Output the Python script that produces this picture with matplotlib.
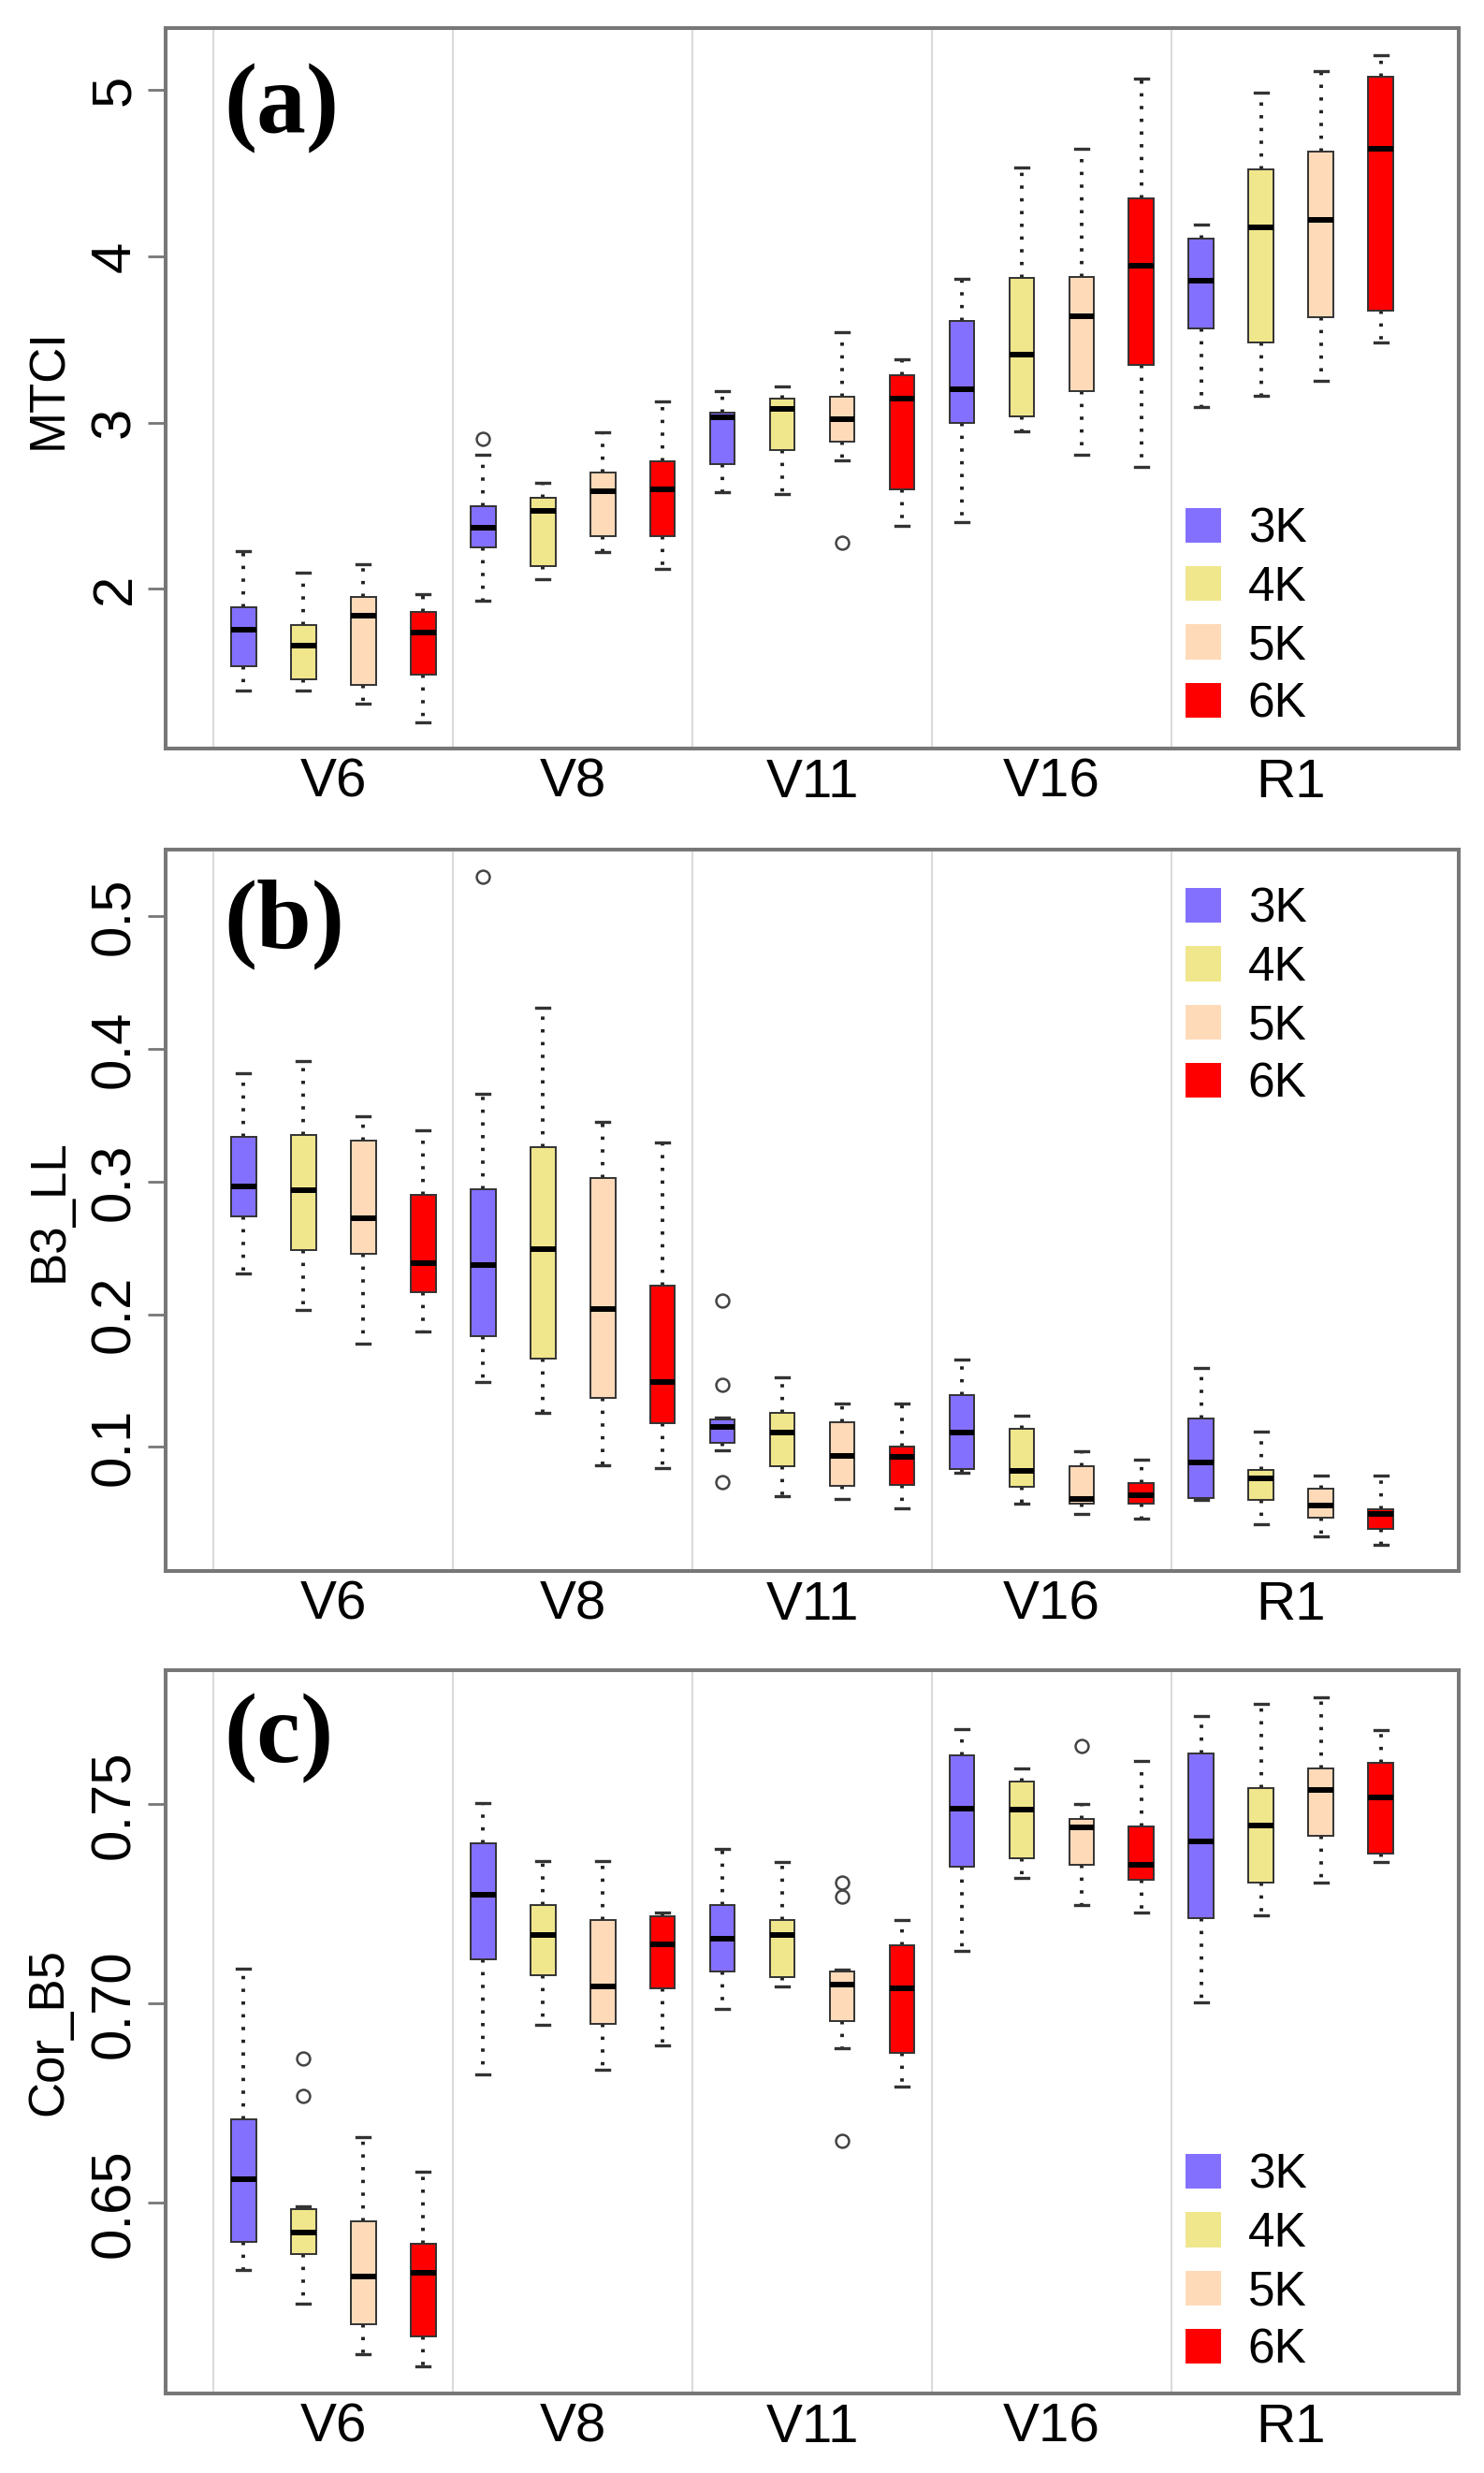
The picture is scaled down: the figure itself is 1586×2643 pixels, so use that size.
import numpy as np
import matplotlib.pyplot as plt
from matplotlib.patches import Patch

plt.rcParams['font.family'] = ['Liberation Sans', 'DejaVu Sans']

groups = ['V6', 'V8', 'V11', 'V16', 'R1']
levels = ['3K', '4K', '5K', '6K']
colors = ['#8470FF', '#F0E68C', '#FFDAB9', '#FF0000']

# (a) MTCI -- boxes ordered V6 3K..6K, V8 3K..6K, ...
mtci_lo = [1.39, 1.39, 1.31, 1.20, 1.93, 2.06, 2.22, 2.12, 2.58, 2.57, 2.775, 2.378,
           2.40, 2.95, 2.81, 2.735, 3.095, 3.162, 3.253, 3.485]
mtci_q1 = [1.533, 1.455, 1.424, 1.485, 2.25, 2.14, 2.32, 2.32, 2.75, 2.835, 2.887, 2.60,
           2.997, 3.04, 3.192, 3.348, 3.567, 3.485, 3.637, 3.674]
mtci_med = [1.753, 1.66, 1.84, 1.74, 2.37, 2.47, 2.59, 2.60, 3.03, 3.085, 3.024, 3.146,
            3.20, 3.41, 3.643, 3.942, 3.853, 4.174, 4.223, 4.646]
mtci_q3 = [1.89, 1.78, 1.95, 1.86, 2.50, 2.55, 2.70, 2.77, 3.06, 3.146, 3.155, 3.287,
           3.613, 3.872, 3.878, 4.35, 4.11, 4.527, 4.631, 5.082]
mtci_hi = [2.226, 2.10, 2.15, 1.97, 2.81, 2.64, 2.94, 3.13, 3.19, 3.216, 3.545, 3.384,
           3.863, 4.534, 4.65, 5.07, 4.192, 4.985, 5.116, 5.213]
mtci_out = {5: [2.905], 11: [2.277]}

# (b) B3_LL
b3_lo = [0.231, 0.2033, 0.1776, 0.1872, 0.149, 0.126, 0.0859, 0.0839, 0.0974, 0.0629, 0.061, 0.0541,
         0.0809, 0.0572, 0.0495, 0.0457, 0.0602, 0.0419, 0.0323, 0.0266]
b3_q1 = [0.274, 0.2484, 0.2457, 0.2166, 0.1834, 0.1669, 0.1367, 0.1176, 0.1028, 0.0858, 0.0706, 0.0713,
         0.0832, 0.0698, 0.0572, 0.0572, 0.0618, 0.0598, 0.0465, 0.038]
b3_med = [0.2962, 0.2935, 0.2721, 0.2384, 0.2369, 0.2491, 0.204, 0.149, 0.115, 0.1107, 0.0935, 0.0924,
          0.1107, 0.082, 0.061, 0.064, 0.0885, 0.0763, 0.056, 0.0495]
b3_q3 = [0.3337, 0.3352, 0.3306, 0.2897, 0.2943, 0.326, 0.3027, 0.2216, 0.1211, 0.126, 0.1184, 0.1,
         0.1394, 0.1134, 0.0858, 0.0725, 0.1214, 0.0828, 0.0686, 0.0533]
b3_hi = [0.3815, 0.3906, 0.3493, 0.339, 0.3662, 0.4308, 0.3451, 0.3294, 0.122, 0.1528, 0.1329, 0.1329,
         0.1662, 0.1233, 0.0966, 0.0908, 0.1597, 0.1115, 0.0782, 0.0782]
b3_out = {5: [0.530], 9: [0.2103, 0.1468, 0.0734]}

# (c) Cor_B5
cor_lo = [0.6332, 0.6248, 0.612, 0.6089, 0.6822, 0.6946, 0.6834, 0.6895, 0.6986, 0.7043, 0.6888, 0.6791,
          0.7133, 0.7315, 0.7246, 0.7228, 0.7003, 0.7222, 0.7304, 0.7354]
cor_q1 = [0.6403, 0.6372, 0.6195, 0.6165, 0.7112, 0.707, 0.695, 0.7039, 0.708, 0.7067, 0.6957, 0.6877,
          0.7344, 0.7365, 0.7348, 0.7311, 0.7215, 0.7304, 0.7421, 0.7377]
cor_med = [0.656, 0.6425, 0.6315, 0.6325, 0.7272, 0.7173, 0.7043, 0.7149, 0.7162, 0.7172, 0.7047, 0.7039,
           0.7489, 0.7487, 0.7443, 0.7348, 0.7407, 0.7447, 0.7537, 0.7517]
cor_q3 = [0.6709, 0.6483, 0.6454, 0.6398, 0.7401, 0.7246, 0.7209, 0.7219, 0.7246, 0.7209, 0.708, 0.7146,
          0.7622, 0.7557, 0.7464, 0.7444, 0.7628, 0.754, 0.7589, 0.7603]
cor_hi = [0.7087, 0.649, 0.6666, 0.6577, 0.7503, 0.7357, 0.7357, 0.7228, 0.7387, 0.7354, 0.7085, 0.7209,
          0.7689, 0.7589, 0.75, 0.7609, 0.7721, 0.7752, 0.7769, 0.7685]
cor_out = {2: [0.6862, 0.6768], 11: [0.7304, 0.7268, 0.6655], 15: [0.7646]}

mtci_ticks = [2, 3, 4, 5]
mtci_ticklabels = ['2', '3', '4', '5']
b3_ticks = [0.1, 0.2, 0.3, 0.4, 0.5]
b3_ticklabels = ['0.1', '0.2', '0.3', '0.4', '0.5']
cor_ticks = [0.65, 0.70, 0.75]
cor_ticklabels = ['0.65', '0.70', '0.75']

GRAY = '#777777'


def draw_panel(ax, lo, q1, med, q3, hi, out, ylab, yt, ytl, tag, tag_y, leg_y):
    n = len(med)
    pos = np.arange(1, n + 1)
    stats = []
    for i in range(n):
        stats.append(dict(whislo=lo[i], q1=q1[i], med=med[i], q3=q3[i], whishi=hi[i],
                          fliers=out.get(i + 1, [])))
    bp = ax.bxp(stats, positions=pos, widths=0.42, capwidths=0.22, patch_artist=True,
                boxprops=dict(edgecolor='#333333', linewidth=1.4),
                medianprops=dict(color='black', linewidth=4.3, solid_capstyle='butt'),
                whiskerprops=dict(color='#222222', linewidth=2.8, linestyle=(0, (0.9, 2.6))),
                capprops=dict(color='#333333', linewidth=2.4),
                flierprops=dict(marker='o', markersize=10, markerfacecolor='none',
                                markeredgecolor='#444444', markeredgewidth=1.8))
    for k, patch in enumerate(bp['boxes']):
        patch.set_facecolor(colors[k % 4])
        patch.set_zorder(3)
    for m in bp['medians']:
        m.set_zorder(4)
    for sep in np.arange(0.5, n, 4):
        ax.axvline(sep, color='#DADADA', lw=1.5, zorder=0)

    ax.set_xlim(-0.3, n + 1.3)
    ax.margins(y=0.04)
    ax.set_xticks(np.arange(2.5, n + 1, 4))
    ax.set_xticklabels(groups, fontsize=42)
    ax.tick_params(axis='x', length=0, pad=7)
    ax.set_yticks(yt)
    ax.set_yticklabels(ytl, fontsize=43, rotation=90, va='center')
    ax.tick_params(axis='y', length=14, width=2, color=GRAY, pad=5)
    for sp in ax.spines.values():
        sp.set_color(GRAY)
        sp.set_linewidth(2.9)
    ax.set_ylabel(ylab, fontsize=38)
    ax.yaxis.set_label_coords(-0.072, 0.5)

    ax.text(0.045, tag_y, tag, transform=ax.transAxes, fontsize=76, fontweight='bold',
            family='Liberation Serif', ha='left', va='baseline')

    handles = [Patch(facecolor=c, edgecolor='none') for c in colors]
    ax.legend(handles, levels, loc='upper left', bbox_to_anchor=(0.789, leg_y),
              frameon=False, fontsize=37, borderpad=0, borderaxespad=0,
              handlelength=0.74, handleheight=0.74, handletextpad=0.55,
              labelspacing=0.26)


fig = plt.figure(figsize=(15.86, 26.43), dpi=100)
ax_a = fig.add_axes([0.1116, 0.6973, 0.8714, 0.2913])
ax_b = fig.add_axes([0.1116, 0.3647, 0.8714, 0.2917])
ax_c = fig.add_axes([0.1116, 0.0322, 0.8714, 0.2924])

draw_panel(ax_a, mtci_lo, mtci_q1, mtci_med, mtci_q3, mtci_hi, mtci_out,
           'MTCI', mtci_ticks, mtci_ticklabels, '(a)', 0.856, 0.336)
draw_panel(ax_b, b3_lo, b3_q1, b3_med, b3_q3, b3_hi, b3_out,
           'B3_LL', b3_ticks, b3_ticklabels, '(b)', 0.864, 0.949)
draw_panel(ax_c, cor_lo, cor_q1, cor_med, cor_q3, cor_hi, cor_out,
           'Cor_B5', cor_ticks, cor_ticklabels, '(c)', 0.873, 0.333)

fig.savefig('out.png', dpi=100, facecolor='white')
